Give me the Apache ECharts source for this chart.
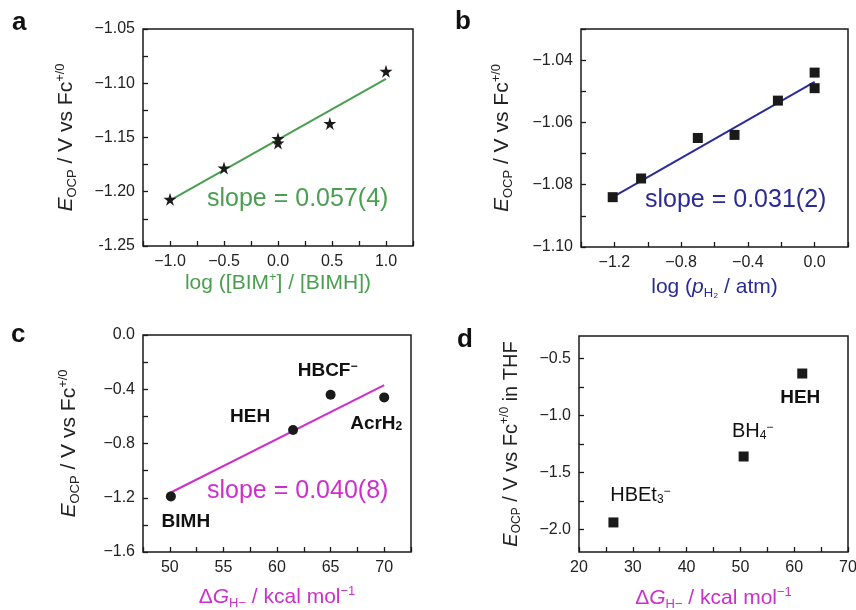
<!DOCTYPE html>
<html>
<head>
<meta charset="utf-8">
<script src="https://cdn.jsdelivr.net/npm/echarts@6/dist/echarts.min.js"></script>
<style>
  html, body { margin: 0; background: #fff; }
  #chart { width: 856px; height: 610px; }
</style>
</head>
<body>
<div id="chart"></div>
<script>
  // panel a - E vs log([BIM+]/[BIMH])
  var aX = [-1.0, -0.5, 0.0, 0.0, 0.48, 1.0]
  var aY = [-1.207, -1.178, -1.151, -1.155, -1.137, -1.089]
  var aFit = [[-1.0, -1.208], [1.0, -1.096]]
  var aXLabels = [-1.0, -0.5, 0.0, 0.5, 1.0]
  var aYLabels = [-1.25, -1.20, -1.15, -1.10, -1.05]

  // panel b - E vs log(pH2)
  var bX = [-1.21, -1.04, -0.70, -0.48, -0.22, 0.0, 0.0]
  var bY = [-1.084, -1.078, -1.065, -1.064, -1.053, -1.044, -1.049]
  var bFit = [[-1.21, -1.084], [0.0, -1.047]]
  var bXLabels = [-1.2, -0.8, -0.4, 0.0]
  var bYLabels = [-1.10, -1.08, -1.06, -1.04]

  // panel c - E vs dG(H-)
  var cNames = ['BIMH', 'HEH', 'HBCF', 'AcrH']
  var cX = [50.1, 61.5, 65.0, 70.0]
  var cY = [-1.19, -0.70, -0.44, -0.46]
  var cFit = [[50.0, -1.165], [70.0, -0.37]]
  var cXLabels = [50, 55, 60, 65, 70]
  var cYLabels = [-1.6, -1.2, -0.8, -0.4, 0.0]

  // panel d - E in THF vs dG(H-)
  var dNames = ['HBEt', 'BH', 'HEH']
  var dX = [26.4, 50.6, 61.5]
  var dY = [-1.94, -1.36, -0.63]
  var dXLabels = [20, 30, 40, 50, 60, 70]
  var dYLabels = [-2.0, -1.5, -1.0, -0.5]

  var GREEN = '#4a9e50'
  var BLUE = '#2b2b98'
  var MAGENTA = '#cc2fcc'
  var INK = '#1a1a1a'
  var FONT = '"Liberation Sans", Arial, sans-serif'
  var STAR = 'path://M50,0 L61,35 L98,35 L68,57 L79,91 L50,70 L21,91 L32,57 L2,35 L39,35 Z'

  function ticks(min, max, step) {
    var out = []
    var n = Math.round((max - min) / step)
    for (var i = 0; i <= n; i++) out.push(+(min + i * step).toFixed(4))
    return out
  }
  function minus(v, d) {
    var s = Math.abs(v).toFixed(d)
    return v < -1e-9 ? '\u2212' + s : s
  }

  var titleRich = function (color, size) {
    var small = Math.round(size * 0.6)
    return {
      n: { fontSize: size, color: color, fontFamily: FONT, lineHeight: size + 4 },
      i: { fontSize: size, color: color, fontFamily: FONT, fontStyle: 'italic', lineHeight: size + 4 },
      sub: { fontSize: small, color: color, fontFamily: FONT, lineHeight: small, verticalAlign: 'bottom' },
      sup: { fontSize: small, color: color, fontFamily: FONT, lineHeight: small, verticalAlign: 'top' }
    }
  }
  var yName = '{i|E}{sub|OCP}{n| / V vs Fc}{sup|+/0}'
  var dGName = '{n|\u0394}{i|G}{sub|H\u2212}{n| / kcal mol}{sup|\u22121}'

  function xAxis(idx, min, max, step, labels, dec, name, color, gap) {
    return {
      type: 'value', gridIndex: idx, min: min, max: max,
      name: name, nameLocation: 'middle', nameGap: gap,
      nameTextStyle: { rich: titleRich(color, 21) },
      axisLine: { show: false, onZero: false },
      axisTick: { inside: true, length: 5, lineStyle: { color: INK, width: 1.3 }, customValues: ticks(min, max, step) },
      axisLabel: { customValues: labels, fontSize: 16, color: '#222', fontFamily: FONT, margin: 8,
        formatter: function (v) { return minus(v, dec) } },
      splitLine: { show: false }
    }
  }
  function yAxis(idx, min, max, step, labels, dec, gap, fmt) {
    return {
      type: 'value', gridIndex: idx, min: min, max: max,
      name: yName, nameLocation: 'middle', nameGap: gap, nameRotate: 90,
      nameTextStyle: { rich: titleRich('#222', 21) },
      axisLine: { show: false, onZero: false },
      axisTick: { inside: true, length: 5, lineStyle: { color: INK, width: 1.3 }, customValues: ticks(min, max, step) },
      axisLabel: { customValues: labels, fontSize: 16, color: '#222', fontFamily: FONT, margin: 8,
        formatter: fmt || function (v) { return minus(v, dec) } },
      splitLine: { show: false }
    }
  }
  function grid(l, t, w, h) {
    return { left: l, top: t, width: w, height: h, show: true, borderColor: INK, borderWidth: 1.5,
      backgroundColor: 'transparent', outerBoundsMode: 'none', containLabel: false }
  }
  function pairs(xs, ys) { return xs.map(function (x, i) { return [x, ys[i]] }) }

  var labelRich = {
    b: { fontSize: 19, fontWeight: 'bold', color: '#111', fontFamily: FONT },
    bs: { fontSize: 12, fontWeight: 'bold', color: '#111', fontFamily: FONT, verticalAlign: 'bottom', lineHeight: 10 },
    bp: { fontSize: 12, fontWeight: 'bold', color: '#111', fontFamily: FONT, verticalAlign: 'top', lineHeight: 10 },
    r: { fontSize: 20, color: '#111', fontFamily: FONT },
    rs: { fontSize: 12, color: '#111', fontFamily: FONT, verticalAlign: 'bottom', lineHeight: 10 },
    rp: { fontSize: 12, color: '#111', fontFamily: FONT, verticalAlign: 'top', lineHeight: 10 }
  }
  var cLabels = [
    { text: '{b|BIMH}', offset: [15, 25] },
    { text: '{b|HEH}', offset: [-43, -13] },
    { text: '{b|HBCF}{bp|\u2212}', offset: [-3, -24] },
    { text: '{b|AcrH}{bs|2}', offset: [-8, 26] }
  ]
  var dLabels = [
    { text: '{r|HBEt}{rs|3}{rp|\u2212}', offset: [27, -27] },
    { text: '{r|BH}{rs|4}{rp|\u2212}', offset: [9, -25] },
    { text: '{b|HEH}', offset: [-2, 24] }
  ]
  function labelled(xs, ys, labs) {
    return xs.map(function (x, i) {
      return {
        value: [x, ys[i]],
        label: { show: true, position: 'inside', offset: labs[i].offset, rich: labelRich,
          color: '#111', textBorderWidth: 0, formatter: labs[i].text }
      }
    })
  }
  var dot = { color: INK, opacity: 1 }

  var chart = echarts.init(document.getElementById('chart'))
  chart.setOption({
    animation: false,
    backgroundColor: '#fff',
    grid: [grid(143, 29, 270, 217), grid(581, 29, 267, 218), grid(143, 335, 268, 217), grid(579, 336, 269, 216)],
    xAxis: [
      xAxis(0, -1.25, 1.25, 0.25, aXLabels, 1, '{n|log ([BIM}{sup|+}{n|] / [BIMH])}', GREEN, 24),
      xAxis(1, -1.4, 0.2, 0.2, bXLabels, 1, '{n|log (}{i|p}{sub|H\u2082}{n| / atm)}', BLUE, 28),
      xAxis(2, 47.5, 72.5, 2.5, cXLabels, 0, dGName, MAGENTA, 33),
      xAxis(3, 20, 70, 5, dXLabels, 0, dGName, MAGENTA, 34)
    ],
    yAxis: [
      yAxis(0, -1.25, -1.05, 0.025, aYLabels, 2, 64, function (v) {
        return Math.abs(v + 1.25) < 1e-6 ? '-1.25' : minus(v, 2)
      }),
      yAxis(1, -1.10, -1.03, 0.01, bYLabels, 2, 66),
      yAxis(2, -1.6, 0.0, 0.2, cYLabels, 1, 61),
      (function () {
        var ax = yAxis(3, -2.2, -0.3, 0.25, dYLabels, 1, 56)
        ax.axisTick.customValues = ticks(-2.0, -0.5, 0.25)
        ax.name = '{i|E}{sub|OCP}{n| / V vs Fc}{sup|+/0}{n| in THF}'
        ax.nameTextStyle = { rich: titleRich('#222', 20) }
        return ax
      })()
    ],
    series: [
      { type: 'line', xAxisIndex: 0, yAxisIndex: 0, data: aFit, symbol: 'none', lineStyle: { color: GREEN, width: 2 }, z: 2 },
      { type: 'scatter', xAxisIndex: 0, yAxisIndex: 0, data: pairs(aX, aY), symbol: STAR, symbolSize: 13, itemStyle: dot, z: 3 },
      { type: 'line', xAxisIndex: 1, yAxisIndex: 1, data: bFit, symbol: 'none', lineStyle: { color: BLUE, width: 2 }, z: 2 },
      { type: 'scatter', xAxisIndex: 1, yAxisIndex: 1, data: pairs(bX, bY), symbol: 'rect', symbolSize: 10, itemStyle: dot, z: 3 },
      { type: 'line', xAxisIndex: 2, yAxisIndex: 2, data: cFit, symbol: 'none', lineStyle: { color: MAGENTA, width: 2 }, z: 2 },
      { type: 'scatter', xAxisIndex: 2, yAxisIndex: 2, data: labelled(cX, cY, cLabels), symbol: 'circle', symbolSize: 10, itemStyle: dot, z: 3 },
      { type: 'scatter', xAxisIndex: 3, yAxisIndex: 3, data: labelled(dX, dY, dLabels), symbol: 'rect', symbolSize: 10, itemStyle: dot, z: 3 }
    ],
    graphic: [
      { type: 'text', left: 12, top: 10, style: { text: 'a', font: 'bold 26px ' + FONT, fill: '#111' } },
      { type: 'text', left: 455, top: 9, style: { text: 'b', font: 'bold 26px ' + FONT, fill: '#111' } },
      { type: 'text', left: 11, top: 322, style: { text: 'c', font: 'bold 26px ' + FONT, fill: '#111' } },
      { type: 'text', left: 457, top: 327, style: { text: 'd', font: 'bold 26px ' + FONT, fill: '#111' } },
      { type: 'text', left: 207, top: 187, style: { text: 'slope = 0.057(4)', font: '25px ' + FONT, fill: GREEN } },
      { type: 'text', left: 645, top: 188, style: { text: 'slope = 0.031(2)', font: '25px ' + FONT, fill: BLUE } },
      { type: 'text', left: 207, top: 479, style: { text: 'slope = 0.040(8)', font: '25px ' + FONT, fill: MAGENTA } }
    ]
  })
</script>
</body>
</html>
